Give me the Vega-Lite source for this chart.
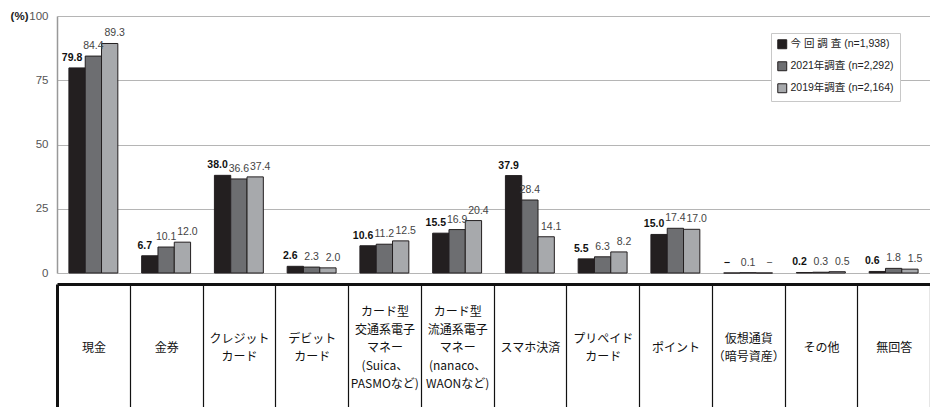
{
  "$schema": "https://vega.github.io/schema/vega-lite/v6.json",
  "width": 873,
  "height": 257,
  "autosize": {"type": "none"},
  "padding": {"left": 57, "top": 16, "right": 0, "bottom": 134},
  "background": "white",
  "config": {
    "view": {"stroke": null},
    "font": "Liberation Sans, Noto Sans CJK JP, sans-serif"
  },
  "data": {
    "values": [
      {"category": "現金", "survey": "今 回 調 査 (n=1,938)", "value": 79.8, "label": "79.8"},
      {"category": "現金", "survey": "2021年調査 (n=2,292)", "value": 84.4, "label": "84.4"},
      {"category": "現金", "survey": "2019年調査 (n=2,164)", "value": 89.3, "label": "89.3"},
      {"category": "金券", "survey": "今 回 調 査 (n=1,938)", "value": 6.7, "label": "6.7"},
      {"category": "金券", "survey": "2021年調査 (n=2,292)", "value": 10.1, "label": "10.1"},
      {"category": "金券", "survey": "2019年調査 (n=2,164)", "value": 12.0, "label": "12.0"},
      {"category": "クレジット\nカード", "survey": "今 回 調 査 (n=1,938)", "value": 38.0, "label": "38.0"},
      {"category": "クレジット\nカード", "survey": "2021年調査 (n=2,292)", "value": 36.6, "label": "36.6"},
      {"category": "クレジット\nカード", "survey": "2019年調査 (n=2,164)", "value": 37.4, "label": "37.4"},
      {"category": "デビット\nカード", "survey": "今 回 調 査 (n=1,938)", "value": 2.6, "label": "2.6"},
      {"category": "デビット\nカード", "survey": "2021年調査 (n=2,292)", "value": 2.3, "label": "2.3"},
      {"category": "デビット\nカード", "survey": "2019年調査 (n=2,164)", "value": 2.0, "label": "2.0"},
      {"category": "カード型\n交通系電子\nマネー\n(Suica、\nPASMOなど)", "survey": "今 回 調 査 (n=1,938)", "value": 10.6, "label": "10.6"},
      {"category": "カード型\n交通系電子\nマネー\n(Suica、\nPASMOなど)", "survey": "2021年調査 (n=2,292)", "value": 11.2, "label": "11.2"},
      {"category": "カード型\n交通系電子\nマネー\n(Suica、\nPASMOなど)", "survey": "2019年調査 (n=2,164)", "value": 12.5, "label": "12.5"},
      {"category": "カード型\n流通系電子\nマネー\n(nanaco、\nWAONなど)", "survey": "今 回 調 査 (n=1,938)", "value": 15.5, "label": "15.5"},
      {"category": "カード型\n流通系電子\nマネー\n(nanaco、\nWAONなど)", "survey": "2021年調査 (n=2,292)", "value": 16.9, "label": "16.9"},
      {"category": "カード型\n流通系電子\nマネー\n(nanaco、\nWAONなど)", "survey": "2019年調査 (n=2,164)", "value": 20.4, "label": "20.4"},
      {"category": "スマホ決済", "survey": "今 回 調 査 (n=1,938)", "value": 37.9, "label": "37.9"},
      {"category": "スマホ決済", "survey": "2021年調査 (n=2,292)", "value": 28.4, "label": "28.4"},
      {"category": "スマホ決済", "survey": "2019年調査 (n=2,164)", "value": 14.1, "label": "14.1"},
      {"category": "プリペイド\nカード", "survey": "今 回 調 査 (n=1,938)", "value": 5.5, "label": "5.5"},
      {"category": "プリペイド\nカード", "survey": "2021年調査 (n=2,292)", "value": 6.3, "label": "6.3"},
      {"category": "プリペイド\nカード", "survey": "2019年調査 (n=2,164)", "value": 8.2, "label": "8.2"},
      {"category": "ポイント", "survey": "今 回 調 査 (n=1,938)", "value": 15.0, "label": "15.0"},
      {"category": "ポイント", "survey": "2021年調査 (n=2,292)", "value": 17.4, "label": "17.4"},
      {"category": "ポイント", "survey": "2019年調査 (n=2,164)", "value": 17.0, "label": "17.0"},
      {"category": "仮想通貨\n（暗号資産）", "survey": "今 回 調 査 (n=1,938)", "value": 0, "label": "−"},
      {"category": "仮想通貨\n（暗号資産）", "survey": "2021年調査 (n=2,292)", "value": 0.1, "label": "0.1"},
      {"category": "仮想通貨\n（暗号資産）", "survey": "2019年調査 (n=2,164)", "value": 0, "label": "−"},
      {"category": "その他", "survey": "今 回 調 査 (n=1,938)", "value": 0.2, "label": "0.2"},
      {"category": "その他", "survey": "2021年調査 (n=2,292)", "value": 0.3, "label": "0.3"},
      {"category": "その他", "survey": "2019年調査 (n=2,164)", "value": 0.5, "label": "0.5"},
      {"category": "無回答", "survey": "今 回 調 査 (n=1,938)", "value": 0.6, "label": "0.6"},
      {"category": "無回答", "survey": "2021年調査 (n=2,292)", "value": 1.8, "label": "1.8"},
      {"category": "無回答", "survey": "2019年調査 (n=2,164)", "value": 1.5, "label": "1.5"}
    ]
  },
  "encoding": {
    "x": {
      "field": "category",
      "type": "nominal",
      "sort": null,
      "scale": {"paddingInner": 0, "paddingOuter": 0},
      "axis": {
        "title": null,
        "orient": "bottom",
        "offset": 11,
        "domainColor": "#111111",
        "domainWidth": 3,
        "tickBand": "extent",
        "tickColor": "#111111",
        "tickSize": 123,
        "tickWidth": {"condition": {"test": "datum.extra", "value": 3}, "value": 1.2},
        "labelAngle": 0,
        "labelExpr": "split(substring('\u200b\\n\u200b\\n\u200b\\n\u200b\\n\u200b\\n\u200b\\n\u200b\\n\u200b\\n', 0, 4 * (5 - length(split(datum.label, '\\n')))) + join(split(datum.label, '\\n'), '\\n\u200b\\n\u200b\\n\u200b\\n'), '\\n')",
        "labelFont": "Noto Sans CJK JP",
        "labelFontSize": 12,
        "labelColor": "#111111",
        "labelLineHeight": 4.5,
        "labelBaseline": "middle",
        "labelPadding": -96,
        "labelLimit": 0
      }
    },
    "xOffset": {
      "field": "survey",
      "type": "nominal",
      "sort": null,
      "scale": {"paddingInner": 0, "paddingOuter": 0.73}
    },
    "y": {
      "field": "value",
      "type": "quantitative",
      "scale": {"domain": [0, 100], "nice": false},
      "axis": {
        "values": [0, 25, 50, 75, 100],
        "title": "(%)",
        "titleAngle": 0,
        "titleAlign": "right",
        "titleBaseline": "middle",
        "titleX": -29,
        "titleY": 0,
        "titleFontSize": 11.5,
        "titleFontWeight": "bold",
        "titleColor": "#222222",
        "ticks": false,
        "labelPadding": 9,
        "labelFontSize": 11.5,
        "labelColor": "#555555",
        "domainColor": "#999999",
        "domainWidth": 1.5,
        "grid": true,
        "gridColor": "#b5b5b5",
        "gridWidth": 1.2
      }
    }
  },
  "layer": [
    {
      "mark": {"type": "bar", "stroke": "#231f20", "strokeWidth": 1},
      "encoding": {
        "color": {
          "field": "survey",
          "type": "nominal",
          "sort": null,
          "scale": {
            "domain": ["今 回 調 査 (n=1,938)", "2021年調査 (n=2,292)", "2019年調査 (n=2,164)"],
            "range": ["#231f20", "#6d6e71", "#a7a9ac"]
          },
          "legend": {
            "title": null,
            "orient": "none",
            "legendX": 714,
            "legendY": 17,
            "symbolType": "square",
            "symbolSize": 80,
            "symbolStrokeColor": "#231f20",
            "symbolStrokeWidth": 1,
            "labelFontSize": 10.5,
            "labelColor": "#222222",
            "labelOffset": 3,
            "rowPadding": 8,
            "padding": 6,
            "strokeColor": "#c8c8c8",
            "fillColor": "white"
          }
        }
      }
    },
    {
      "transform": [{"filter": "datum.survey === '今 回 調 査 (n=1,938)'"}],
      "mark": {"type": "text", "baseline": "alphabetic", "dy": -7, "dx": -5, "fontSize": 10.5, "fontWeight": "bold", "color": "#111111"},
      "encoding": {"text": {"field": "label"}}
    },
    {
      "transform": [{"filter": "datum.survey === '2021年調査 (n=2,292)'"}],
      "mark": {"type": "text", "baseline": "alphabetic", "dy": -7, "dx": 0, "fontSize": 10.5, "color": "#444444"},
      "encoding": {"text": {"field": "label"}}
    },
    {
      "transform": [{"filter": "datum.survey === '2019年調査 (n=2,164)'"}],
      "mark": {"type": "text", "baseline": "alphabetic", "dy": -7, "dx": 5, "fontSize": 10.5, "color": "#444444"},
      "encoding": {"text": {"field": "label"}}
    }
  ]
}
